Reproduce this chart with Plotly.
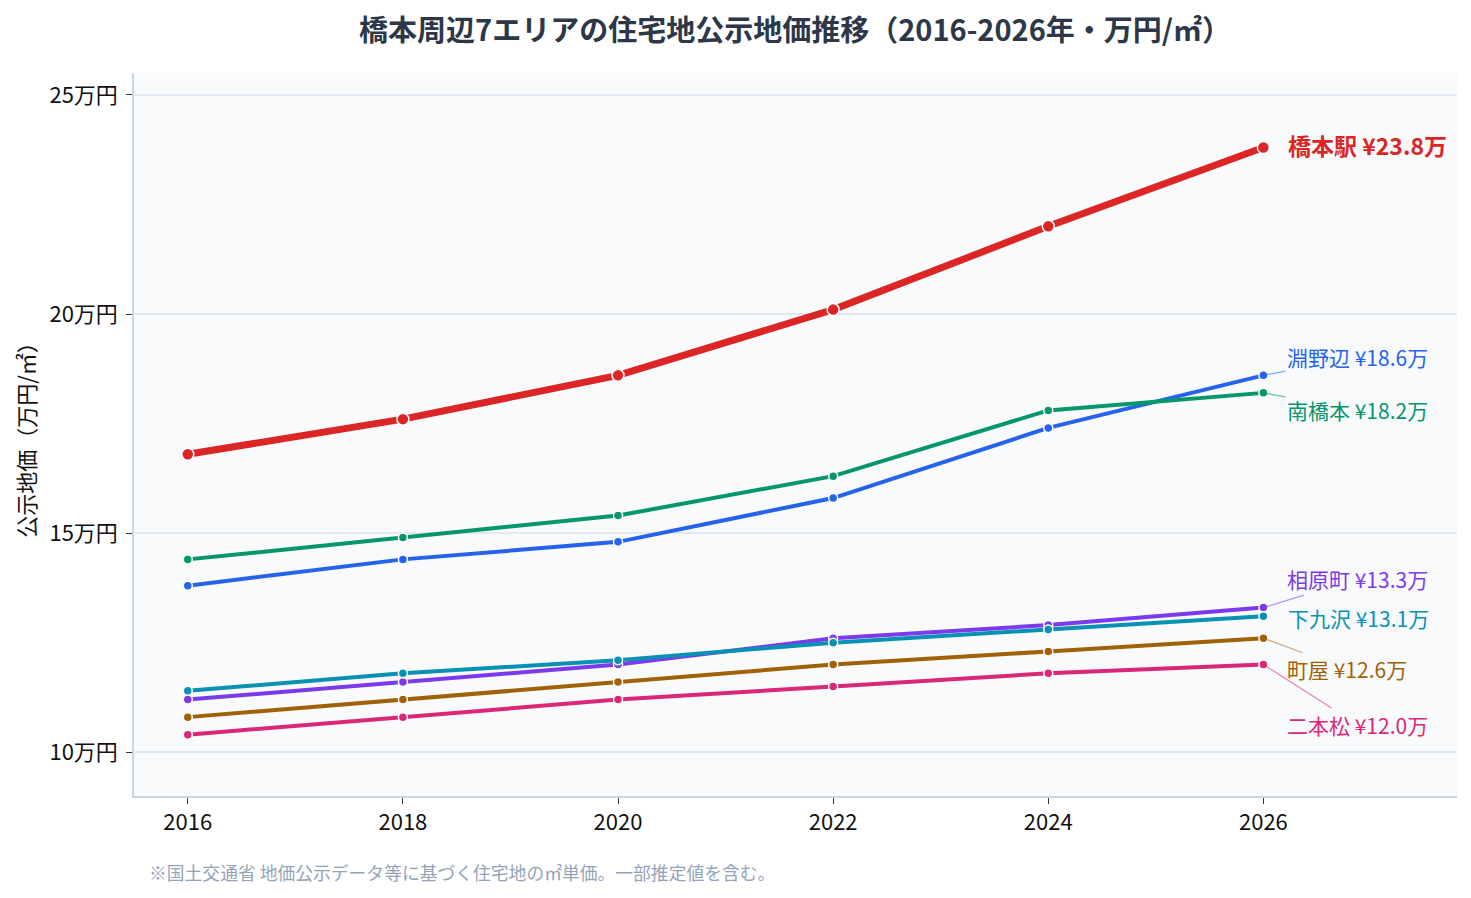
import plotly.graph_objects as go

years = [2016, 2018, 2020, 2022, 2024, 2026]
areas = ["橋本駅", "淵野辺", "南橋本", "相原町", "下九沢", "町屋", "二本松"]
hashimoto = [16.8, 17.6, 18.6, 20.1, 22.0, 23.8]
fuchinobe = [13.8, 14.4, 14.8, 15.8, 17.4, 18.6]
minamihashimoto = [14.4, 14.9, 15.4, 16.3, 17.8, 18.2]
aiharamachi = [11.2, 11.6, 12.0, 12.6, 12.9, 13.3]
shimokuzawa = [11.4, 11.8, 12.1, 12.5, 12.8, 13.1]
machiya = [10.8, 11.2, 11.6, 12.0, 12.3, 12.6]
nihonmatsu = [10.4, 10.8, 11.2, 11.5, 11.8, 12.0]
series = [hashimoto, fuchinobe, minamihashimoto, aiharamachi, shimokuzawa, machiya, nihonmatsu]
colors = ["#dc2626", "#2563eb", "#059669", "#7c3aed", "#0891b2", "#a16207", "#db2777"]
# label placement (pixel offsets from the last point to the label centre)
label_dx = [0, 94, 94, 94, 94, 84, 94]
label_dy = [0, -18, 17, -29, 2, 31, 60]
y_ticks = [10, 15, 20, 25]
y_tick_text = ["10万円", "15万円", "20万円", "25万円"]

FONT = "Noto Sans CJK JP"

fig = go.Figure()
for i, (name, vals, col) in enumerate(zip(areas, series, colors)):
    main = i == 0
    fig.add_trace(go.Scatter(
        x=years, y=vals, name=name, mode="lines+markers",
        line=dict(color=col, width=7 if main else 4),
        marker=dict(size=12 if main else 9, color=col, line=dict(color="white", width=1.5)),
        showlegend=False,
    ))

def rgba(hexcol, a):
    h = hexcol.lstrip("#")
    return f"rgba({int(h[0:2],16)},{int(h[2:4],16)},{int(h[4:6],16)},{a})"

for i, (name, vals, col, dx, dy) in enumerate(zip(areas, series, colors, label_dx, label_dy)):
    txt = f"{name} ¥{vals[-1]:.1f}万"
    if i == 0:
        fig.add_annotation(x=years[-1], y=vals[-1], text=f"<b>{txt}</b>", showarrow=False,
                           xanchor="left", yanchor="middle", xshift=23, yshift=2,
                           font=dict(family=FONT, size=23, color=col))
    elif abs(dy) < 5:
        fig.add_annotation(x=years[-1], y=vals[-1], text=txt, showarrow=False,
                           xanchor="left", yanchor="middle", xshift=23, yshift=-dy,
                           font=dict(family=FONT, size=21, color=col))
    else:
        fig.add_annotation(x=years[-1], y=vals[-1], text=txt, showarrow=True,
                           arrowhead=0, arrowwidth=1.2, arrowcolor=rgba(col, 0.55),
                           ax=dx, ay=dy, xanchor="center", yanchor="middle",
                           font=dict(family=FONT, size=21, color=col))

fig.add_annotation(xref="paper", yref="paper", x=0.010, y=-0.1055, xanchor="left", yanchor="middle",
                   text="※国土交通省 地価公示データ等に基づく住宅地の㎡単価。一部推定値を含む。",
                   showarrow=False, font=dict(family=FONT, size=17.8, color="#94a3b8"))

fig.update_layout(
    width=1471, height=898,
    margin=dict(l=134, r=14, t=73, b=102),
    paper_bgcolor="white", plot_bgcolor="#f8fafc",
    font=dict(family=FONT, size=22, color="#111111"),
    title=dict(text="<b>橋本周辺7エリアの住宅地公示地価推移（2016-2026年・万円/㎡）</b>",
               x=0.5405, xanchor="center", y=0.966, yanchor="middle",
               font=dict(family=FONT, size=29, color="#2d3748")),
    xaxis=dict(range=[2015.5, 2027.8], tickvals=years, ticktext=[str(y) for y in years],
               showgrid=False, zeroline=False, showline=True, linecolor="#cbd5e1", linewidth=1.5,
               ticks="outside", ticklen=6, tickcolor="#333", tickfont=dict(size=22)),
    yaxis=dict(range=[9.0, 25.5], tickvals=y_ticks, ticktext=y_tick_text,
               showgrid=True, gridcolor="#e2e8f0", gridwidth=1.5, zeroline=False,
               showline=True, linecolor="#cbd5e1", linewidth=1.5,
               ticks="outside", ticklen=6, tickcolor="#333", tickfont=dict(size=22),
               ticklabelstandoff=4,
               title=dict(text="公示地価（万円/㎡）", font=dict(size=22), standoff=8)),
)

fig.write_html("out.html")
